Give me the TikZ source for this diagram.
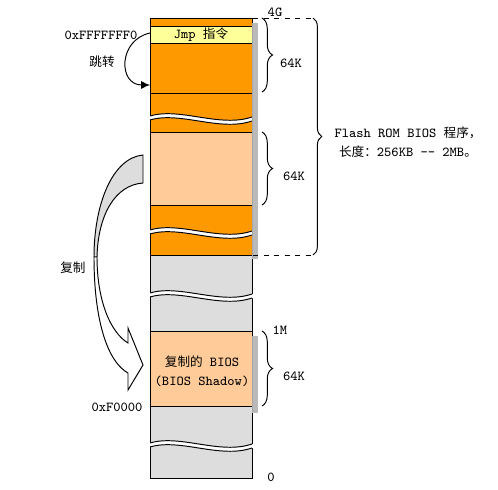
\documentclass[tikz,border=0pt]{standalone}
\usepackage{fontspec}
\newfontfamily\cjk[Scale=0.92]{Noto Sans CJK SC}
\usetikzlibrary{decorations.pathreplacing,arrows.meta}
\definecolor{romorange}{RGB}{255,153,0}
\definecolor{jmpyellow}{RGB}{255,255,153}
\definecolor{biospeach}{RGB}{255,204,153}
\definecolor{ramgray}{RGB}{221,221,221}
\newcommand{\wavecut}[1]{%
  \fill[white] (149,#1-2) .. controls (180,#1-11) and (220,#1+10) .. (253,#1-1) -- (253,#1+3) .. controls (220,#1+14) and (180,#1-7) .. (149,#1+2) -- cycle;
  \draw (150,#1-2) .. controls (180,#1-11) and (220,#1+10) .. (252,#1-1);
  \draw (150,#1+2) .. controls (180,#1-7) and (220,#1+14) .. (252,#1+3);
}
\newcommand{\ruler}[2]{%
  \fill[gray!20] (252,#1) rectangle (258,#2);
  \foreach \y in {#1,...,#2} \draw[gray!55, line width=0.12pt] (252,\y) -- (258,\y);
  \draw[gray!55, line width=0.12pt] (255,#1) -- (255,#2);
  \draw[gray!70, line width=0.3pt] (252.5,#1) -- (252.5,#2);
}
\begin{document}
\begin{tikzpicture}[x=0.02cm, y=-0.02cm, line width=0.55pt,
    font=\ttfamily\fontsize{7.8}{11}\selectfont]
  \useasboundingbox (0,0) rectangle (498,490);
  % memory column
  \filldraw[fill=romorange, draw=black] (150,18) rectangle (252,26);
  \filldraw[fill=jmpyellow, draw=black] (150,26) rectangle (252,43);
  \filldraw[fill=romorange, draw=black] (150,43) rectangle (252,93);
  \filldraw[fill=romorange, draw=black] (150,93) rectangle (252,132);
  \filldraw[fill=biospeach, draw=black] (150,132) rectangle (252,205);
  \filldraw[fill=romorange, draw=black] (150,205) rectangle (252,255);
  \filldraw[fill=ramgray, draw=black] (150,255) rectangle (252,331);
  \filldraw[fill=biospeach, draw=black] (150,331) rectangle (252,406);
  \filldraw[fill=ramgray, draw=black] (150,406) rectangle (252,478);
  \wavecut{118}
  \wavecut{232}
  \wavecut{295}
  \wavecut{445}
  \ruler{23}{258}
  \ruler{336}{412}
  % labels on the column
  \node (jmp) at (201,34.5) {Jmp {\cjk 指令}};
  \node[align=center] (shadow) at (202,371) {{\cjk 复制的} BIOS\\(BIOS Shadow)};
  % jump
  \node (addrtop) at (101,35) {0xFFFFFFF0};
  \node (jumplabel) at (102,62) {\cjk 跳转};
  \coordinate (jmpfrom) at (150,33);
  \coordinate (jmpto) at (150,85);
  \draw[-{Latex[length=5pt,width=4.5pt]}] (jmpfrom) .. controls (118,40) and (118,85) .. (jmpto);
  % copy arrow
  \filldraw[fill=ramgray, draw=black] (143,155) .. controls (112,158) and (94,205) .. (94,257)
    -- (97,257) .. controls (98,215) and (115,185) .. (143,183) -- cycle;
  \filldraw[fill=white, draw=black] (94,257) .. controls (94,322) and (108,362) .. (128,373)
    -- (128,390) -- (143,365) -- (128,328) -- (128,343)
    .. controls (110,332) and (97,300) .. (97,257) -- cycle;
  \node (copylabel) at (73,268) {\cjk 复制};
  \node (addrbios) at (117,407) {0xF0000};
  % sizes
  \node (g4) at (275,12) {4G};
  \node (m1) at (280,330) {1M};
  \node (zero) at (271,477) {0};
  \draw[decorate, decoration={brace, amplitude=6pt}] (262,18) -- (262,92);
  \node (k64a) at (291,63) {64K};
  \draw[decorate, decoration={brace, amplitude=6pt}] (262,132) -- (262,205);
  \node (k64b) at (294,176) {64K};
  \draw[decorate, decoration={brace, amplitude=6pt}] (262,331) -- (262,406);
  \node (k64c) at (294,376) {64K};
  % flash rom
  \draw[dashed] (253,18) -- (313,18);
  \draw[dashed] (253,255) -- (313,255);
  \draw[decorate, decoration={brace, amplitude=5pt}] (313,18) -- (313,255);
  \node[align=center] (flash) at (408,142) {Flash ROM BIOS {\cjk 程序，}\\{\cjk 长度：}256KB -- 2MB{\cjk 。}};
\end{tikzpicture}
\end{document}
